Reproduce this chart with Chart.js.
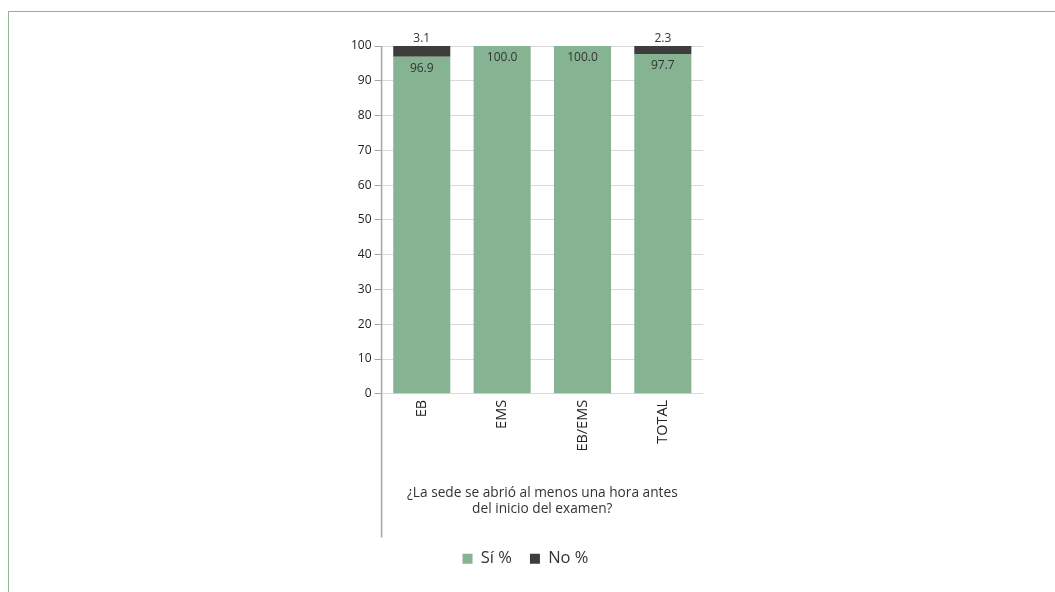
<!DOCTYPE html>
<html>
<head>
<meta charset="utf-8">
<script src="https://cdn.jsdelivr.net/npm/chart.js@4"></script>
<style>
  html, body { margin: 0; padding: 0; background: #fff; }
  #frame {
    position: absolute; left: 8px; top: 11px; width: 1047px; height: 600px;
    border-top: 1px solid #8db897; border-left: 1px solid #8db897;
  }
  #wrap { position: absolute; left: 0; top: 0; width: 1055px; height: 592px; }
</style>
</head>
<body>
<div id="frame"></div>
<div id="wrap"><canvas id="chart"></canvas></div>
<script>
// data
var categories = ["EB", "EMS", "EB/EMS", "TOTAL"];
var siValues = [96.9, 100.0, 100.0, 97.7];
var noValues = [3.1, 0, 0, 2.3];
var yTicks = [0, 10, 20, 30, 40, 50, 60, 70, 80, 90, 100];
var axisTitle = ["¿La sede se abrió al menos una hora antes", "del inicio del examen?"];

var fontFamily = "'Open Sans', 'Noto Sans', sans-serif";

// value labels: Sí inside top of bar, No above the stack
var valueLabels = {
    id: 'valueLabels',
    afterDatasetsDraw: function(chart) {
        var ctx = chart.ctx;
        ctx.save();
        ctx.font = "12px " + fontFamily;
        ctx.fillStyle = "#333";
        ctx.textAlign = "center";
        var siMeta = chart.getDatasetMeta(0);
        var noMeta = chart.getDatasetMeta(1);
        siMeta.data.forEach(function(bar, i) {
            ctx.textBaseline = "top";
            ctx.fillText(siValues[i].toFixed(1), bar.x, bar.y + 6);
            if (noValues[i] > 0) {
                var nb = noMeta.data[i];
                ctx.textBaseline = "bottom";
                ctx.fillText(noValues[i].toFixed(1), nb.x, nb.y - 1);
            }
        });
        ctx.restore();
    }
};

// y axis line runs down through the category labels and title
var longAxis = {
    id: 'longAxis',
    afterDraw: function(chart) {
        var ctx = chart.ctx;
        var x = chart.scales.y.right;
        ctx.save();
        ctx.strokeStyle = "#a6a6a6";
        ctx.lineWidth = 1.5;
        ctx.beginPath();
        ctx.moveTo(x, chart.chartArea.top);
        ctx.lineTo(x, chart.scales.x.bottom + 5);
        ctx.stroke();
        ctx.restore();
    }
};

new Chart(document.getElementById("chart"), {
    type: 'bar',
    data: {
        labels: categories,
        datasets: [
            {
                label: "Sí %",
                data: siValues,
                backgroundColor: "#86b391",
                barPercentage: 0.71,
                categoryPercentage: 1.0
            },
            {
                label: "No %",
                data: noValues,
                backgroundColor: "#3d3d3d",
                barPercentage: 0.71,
                categoryPercentage: 1.0
            }
        ]
    },
    options: {
        responsive: true,
        maintainAspectRatio: false,
        animation: false,
        layout: { padding: { left: 348, right: 352, top: 46, bottom: 15 } },
        plugins: {
            legend: {
                position: 'bottom',
                labels: {
                    boxWidth: 10,
                    boxHeight: 10,
                    padding: 18,
                    color: "#333",
                    font: { family: fontFamily, size: 16.5 }
                }
            },
            tooltip: { enabled: false }
        },
        scales: {
            x: {
                stacked: true,
                grid: { display: false, drawTicks: false },
                border: { display: false },
                ticks: {
                    color: "#222",
                    font: { family: fontFamily, size: 14.5 },
                    maxRotation: 90,
                    minRotation: 90,
                    padding: 6
                },
                title: {
                    display: true,
                    text: axisTitle,
                    color: "#333",
                    font: { family: fontFamily, size: 13.7 },
                    padding: { top: 27, bottom: 15 }
                }
            },
            y: {
                stacked: true,
                min: 0,
                max: 100,
                afterBuildTicks: function(scale) {
                    scale.ticks = yTicks.map(function(v) { return { value: v }; });
                },
                grid: {
                    color: "#d9d9d9",
                    tickColor: "#a6a6a6",
                    tickLength: 7,
                    lineWidth: 1
                },
                border: { display: false },
                ticks: {
                    color: "#222",
                    font: { family: fontFamily, size: 12 },
                    padding: 3
                }
            }
        }
    },
    plugins: [valueLabels, longAxis]
});
</script>
</body>
</html>
